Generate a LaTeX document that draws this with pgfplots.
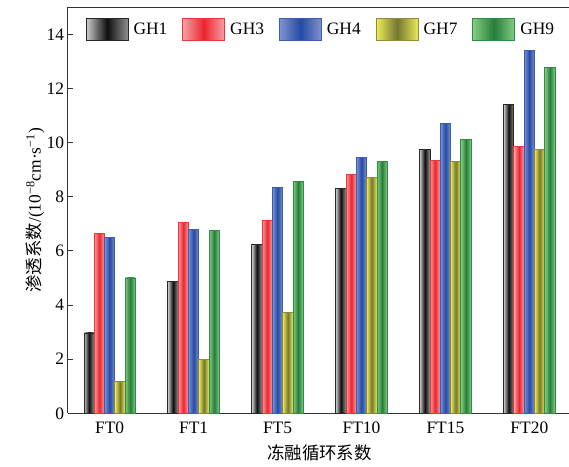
\documentclass[border=0pt]{standalone}
\usepackage{pgfplots}
\pgfplotsset{compat=1.18}
\usepackage{fontspec}
\setmainfont{Liberation Serif}
\newfontfamily\cjk{Noto Sans CJK SC}

\definecolor{aL}{RGB}{205,205,205}\definecolor{aM}{RGB}{15,15,15}\definecolor{aB}{RGB}{40,40,40}
\definecolor{bL}{RGB}{246,160,165}\definecolor{bM}{RGB}{235,38,45}\definecolor{bB}{RGB}{235,55,55}
\definecolor{cL}{RGB}{130,145,205}\definecolor{cM}{RGB}{35,75,165}\definecolor{cB}{RGB}{55,95,180}
\definecolor{dL}{RGB}{235,235,85}\definecolor{dM}{RGB}{118,118,50}\definecolor{dB}{RGB}{140,140,60}
\definecolor{eL}{RGB}{130,205,130}\definecolor{eM}{RGB}{38,125,60}\definecolor{eB}{RGB}{50,140,70}

\pgfplotsset{
  sA/.style={draw=aB, line width=0.8bp, left color=aL, right color=aL!70!black, middle color=aM},
  sB/.style={draw=bB, line width=0.8bp, left color=bL, right color=bL, middle color=bM},
  sC/.style={draw=cB, line width=0.8bp, left color=cL, right color=cL, middle color=cM},
  sD/.style={draw=dB, line width=0.8bp, left color=dL, right color=dL, middle color=dM},
  sE/.style={draw=eB, line width=0.8bp, left color=eL, right color=eL, middle color=eM},
}
% one bar: style, shift, x, y
\newcommand\B[4]{\addplot[#1, bar shift=#2, forget plot] coordinates {(#3,#4)};}

\begin{document}
\begin{tikzpicture}
\begin{axis}[
  font=\fontsize{17.5}{21}\selectfont,
  scale only axis, width=503.6bp, height=406bp,
  xmin=-0.5, xmax=5.5, ymin=0, ymax=15,
  axis x line*=box, axis y line*=left,
  axis line style={line width=1.1bp, color=black!80},
  xtick={0,...,5}, xticklabels={FT0,FT1,FT5,FT10,FT15,FT20},
  x tick style={draw=none},
  ytick={0,2,...,14}, tick align=inside, major tick length=5bp,
  y tick style={line width=1bp, color=black!80},
  /pgf/number format/assume math mode=true,
  ybar=0pt, bar width=10.3bp,
  ylabel={{\cjk 渗透系数}/(10\textsuperscript{−8}cm·s\textsuperscript{−1})},
  xlabel={{\cjk 冻融循环系数}},
  every axis y label/.style={at={([xshift=-32.7bp]axis description cs:0,0.5)}, rotate=90, anchor=center},
  every axis x label/.style={at={([yshift=-39.2bp]axis description cs:0.5,0)}, anchor=center},
  legend columns=5,
  legend image code/.code={\draw[#1] (0bp,-10.8bp) rectangle (42bp,10.8bp);},
  legend style={at={([xshift=18bp,yshift=-11bp]axis description cs:0,1)}, anchor=north west,
    draw=none, fill=none, inner sep=0pt, outer sep=0pt,
    nodes={inner sep=0pt, anchor=west},
    /tikz/every odd column/.append style={column sep=5bp},
    /tikz/every even column/.append style={column sep=15bp}},
]
% GH1
\B{sA}{-20.6bp}{0}{2.97}\B{sA}{-20.6bp}{1}{4.88}\B{sA}{-20.6bp}{2}{6.24}
\B{sA}{-20.6bp}{3}{8.30}\B{sA}{-20.6bp}{4}{9.75}\B{sA}{-20.6bp}{5}{11.42}
% GH3
\B{sB}{-10.3bp}{0}{6.65}\B{sB}{-10.3bp}{1}{7.04}\B{sB}{-10.3bp}{2}{7.13}
\B{sB}{-10.3bp}{3}{8.84}\B{sB}{-10.3bp}{4}{9.35}\B{sB}{-10.3bp}{5}{9.86}
% GH4
\B{sC}{0bp}{0}{6.51}\B{sC}{0bp}{1}{6.78}\B{sC}{0bp}{2}{8.34}
\B{sC}{0bp}{3}{9.44}\B{sC}{0bp}{4}{10.71}\B{sC}{0bp}{5}{13.42}
% GH7
\B{sD}{10.3bp}{0}{1.19}\B{sD}{10.3bp}{1}{2.00}\B{sD}{10.3bp}{2}{3.74}
\B{sD}{10.3bp}{3}{8.72}\B{sD}{10.3bp}{4}{9.30}\B{sD}{10.3bp}{5}{9.75}
% GH9
\B{sE}{20.6bp}{0}{5.00}\B{sE}{20.6bp}{1}{6.75}\B{sE}{20.6bp}{2}{8.58}
\B{sE}{20.6bp}{3}{9.30}\B{sE}{20.6bp}{4}{10.13}\B{sE}{20.6bp}{5}{12.77}
\addlegendimage{sA}\addlegendimage{sB}\addlegendimage{sC}\addlegendimage{sD}\addlegendimage{sE}
\legend{GH1,GH3,GH4,GH7,GH9}
\end{axis}
\pgfresetboundingbox
\path ([shift={(-67.7bp,-53.7bp)}]current axis.south west) rectangle ([shift={(501.3bp,7.3bp)}]current axis.north west);
\end{tikzpicture}
\end{document}
